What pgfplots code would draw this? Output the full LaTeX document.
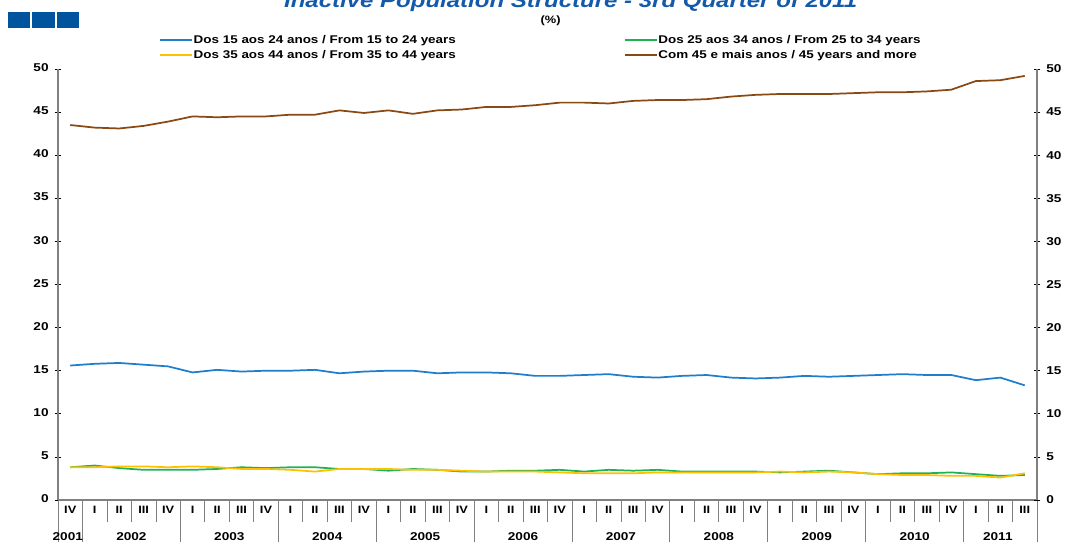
\documentclass[border=0pt]{standalone}
\usepackage{pgfplots}
\pgfplotsset{compat=1.18}
\usepackage{pgfplotstable}
\usepackage{fontspec}
\setmainfont[FakeStretch=1.2]{Liberation Sans}
\definecolor{cBlue}{RGB}{31,125,205}
\definecolor{cGreen}{RGB}{30,178,85}
\definecolor{cYellow}{RGB}{255,192,0}
\definecolor{cBrown}{RGB}{138,72,18}
\definecolor{cTitle}{RGB}{20,90,170}
\definecolor{cSq}{RGB}{0,84,158}
\definecolor{cAxis}{RGB}{128,128,128}

\pgfplotstableread{
i a b c d
0 15.6 3.8 3.8 43.5
1 15.8 4.0 3.8 43.2
2 15.9 3.7 3.9 43.1
3 15.7 3.5 3.9 43.4
4 15.5 3.5 3.8 43.9
5 14.8 3.5 3.9 44.5
6 15.1 3.6 3.8 44.4
7 14.9 3.8 3.6 44.5
8 15.0 3.7 3.6 44.5
9 15.0 3.8 3.5 44.7
10 15.1 3.8 3.3 44.7
11 14.7 3.6 3.6 45.2
12 14.9 3.6 3.6 44.9
13 15.0 3.4 3.6 45.2
14 15.0 3.6 3.5 44.8
15 14.7 3.5 3.5 45.2
16 14.8 3.3 3.4 45.3
17 14.8 3.3 3.3 45.6
18 14.7 3.4 3.3 45.6
19 14.4 3.4 3.3 45.8
20 14.4 3.5 3.2 46.1
21 14.5 3.3 3.1 46.1
22 14.6 3.5 3.1 46.0
23 14.3 3.4 3.1 46.3
24 14.2 3.5 3.2 46.4
25 14.4 3.3 3.2 46.4
26 14.5 3.3 3.2 46.5
27 14.2 3.3 3.2 46.8
28 14.1 3.3 3.2 47.0
29 14.2 3.2 3.3 47.1
30 14.4 3.3 3.2 47.1
31 14.3 3.4 3.3 47.1
32 14.4 3.2 3.2 47.2
33 14.5 3.0 3.0 47.3
34 14.6 3.1 2.9 47.3
35 14.5 3.1 2.9 47.4
36 14.5 3.2 2.8 47.6
37 13.9 3.0 2.8 48.6
38 14.2 2.8 2.6 48.7
39 13.3 2.9 3.1 49.2
}\data

\begin{document}
\begin{tikzpicture}
\useasboundingbox (0,0) rectangle (800.25pt,-406.5pt);
% title (partly cut off at top)
\node[anchor=base, font=\bfseries\itshape\fontsize{15}{17}\selectfont, text=cTitle, inner sep=0pt] at (428pt,-5.5pt) {Inactive Population Structure - 3rd Quarter of 2011};
\node[font=\bfseries\fontsize{8}{9}\selectfont] at (413pt,-15.5pt) {(\%)};
\fill[cSq] (6pt,-9pt) rectangle (22.5pt,-21pt);
\fill[cSq] (24pt,-9pt) rectangle (41pt,-21pt);
\fill[cSq] (42.5pt,-9pt) rectangle (59pt,-21pt);

\begin{axis}[
  at={(43.5pt,-375pt)}, anchor=south west,
  width=734.25pt, height=323.25pt, scale only axis,
  xmin=-0.5, xmax=39.5, ymin=0, ymax=50,
  clip=false,
  axis x line*=bottom, axis y line*=left,
  axis line style={-, cAxis, line width=0.9pt},
  ytick={0,5,...,50},
  ytick align=center,
  major tick length=5pt,
  ytick style={black, line width=0.5pt},
  yticklabel style={font=\bfseries\fontsize{8.5}{10}\selectfont, xshift=-1pt},
  /pgf/number format/assume math mode=true,
  xtick={0,...,39},
  xticklabels={IV,I,II,III,IV,I,II,III,IV,I,II,III,IV,I,II,III,IV,I,II,III,IV,I,II,III,IV,I,II,III,IV,I,II,III,IV,I,II,III,IV,I,II,III},
  major x tick style={draw=none},
  xticklabel style={font=\bfseries\fontsize{8}{9}\selectfont, anchor=center, yshift=-3pt},
  typeset ticklabels with strut,
  minor xtick={-0.5,0.5,...,39.5},
  xtick align=outside,
  minor tick length=16.5pt,
  minor x tick style={cAxis, line width=0.6pt},
  extra x ticks={-0.5,0.5,4.5,8.5,12.5,16.5,20.5,24.5,28.5,32.5,36.5,39.5},
  extra x tick labels={},
  extra x tick style={major tick length=31.5pt, major x tick style={draw=cAxis, line width=0.6pt}, xtick align=outside},
  legend columns=2,
  legend style={draw=none, fill=none, at={(0.099,1.087)}, anchor=north west,
    font=\bfseries\fontsize{8.4}{10}\selectfont,
    nodes={inner sep=0.6pt, text width=322pt, align=left},
    row sep=2.5pt},
  legend cell align=left,
  legend image code/.code={\draw[#1, line width=1.3pt] (0pt,0pt) -- (24pt,0pt);},
  every axis plot/.append style={line width=1.3pt},
]
\addplot[cBlue, no marks] table[x=i, y=a] {\data};
\addlegendentry{Dos 15 aos 24 anos / From 15 to 24 years}
\addplot[cGreen, no marks] table[x=i, y=b] {\data};
\addlegendentry{Dos 25 aos 34 anos / From 25 to 34 years}
\addplot[cYellow, no marks] table[x=i, y=c] {\data};
\addlegendentry{Dos 35 aos 44 anos / From 35 to 44 years}
\addplot[cBrown, no marks] table[x=i, y=d] {\data};
\addlegendentry{Com 45 e mais anos / 45 years and more}
\foreach \yr/\xp in {2001/-0.1,2002/2.5,2003/6.5,2004/10.5,2005/14.5,2006/18.5,2007/22.5,2008/26.5,2009/30.5,2010/34.5,2011/37.9} {
  \edef\tmp{\noexpand\node[font=\noexpand\bfseries\noexpand\fontsize{8.5}{10}\noexpand\selectfont, anchor=center] at (axis cs:\xp,0) [yshift=-27.5pt] {\yr};}
  \tmp
}
\end{axis}
\begin{axis}[
  at={(43.5pt,-375pt)}, anchor=south west,
  width=734.25pt, height=323.25pt, scale only axis,
  xmin=-0.5, xmax=39.5, ymin=0, ymax=50,
  axis x line=none, axis y line*=right,
  axis line style={-, cAxis, line width=0.9pt},
  ytick={0,5,...,50},
  ytick align=center,
  major tick length=5pt,
  ytick style={black, line width=0.5pt},
  yticklabel style={font=\bfseries\fontsize{8.5}{10}\selectfont, xshift=1pt},
  /pgf/number format/assume math mode=true,
]
\end{axis}
\end{tikzpicture}
\end{document}
